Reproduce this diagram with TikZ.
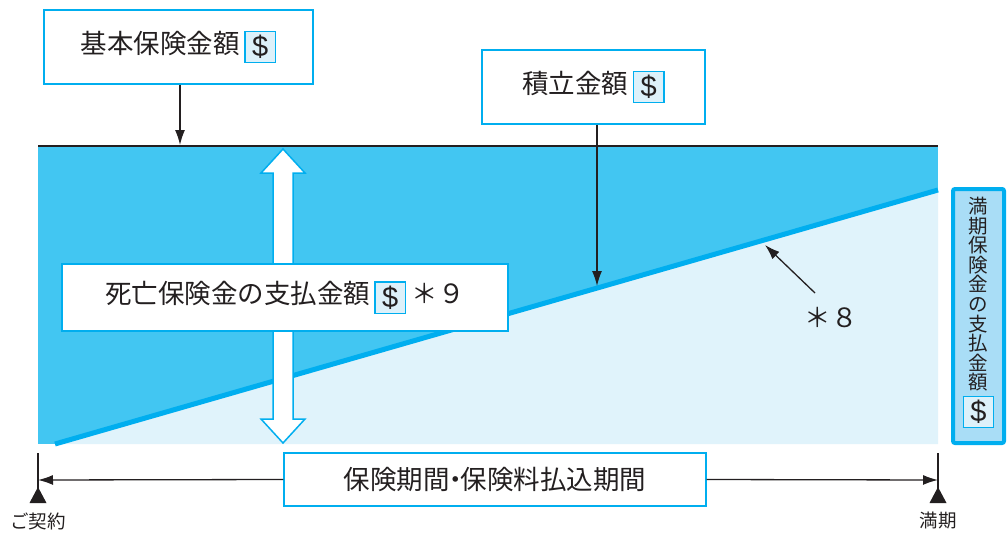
\documentclass[tikz,border=0pt]{standalone}
\usepackage{fontspec}
\setmainfont{Noto Sans CJK JP}
\newfontfamily\dollarfont{Liberation Sans}
\usetikzlibrary{arrows.meta}
\definecolor{linecol}{HTML}{00AEEF}
\definecolor{darkfill}{HTML}{42C6F2}
\definecolor{lightfill}{HTML}{E0F3FB}
\definecolor{midfill}{HTML}{A9DDF6}
\definecolor{dollarfill}{HTML}{DDF1FA}
\definecolor{inkcol}{HTML}{231F20}
\newcommand{\dollarbox}{{\setlength{\fboxsep}{0pt}\setlength{\fboxrule}{1.3pt}\fcolorbox{linecol}{dollarfill}{\parbox[c][30pt][c]{29pt}{\centering\dollarfont\fontsize{29}{30}\selectfont\$}}}}
\tikzset{
  labelbox/.style={draw=linecol, line width=1.2pt, fill=white, inner sep=0pt, text=inkcol},
  conn/.style={draw=inkcol, line width=1.3pt, -{Latex[length=15pt,width=10pt]}},
  bigtext/.style={font=\fontsize{26.5}{30}\selectfont},
}
\begin{document}
\begin{tikzpicture}[x=1pt,y=-1pt]
\useasboundingbox (0,0) rectangle (1007,535);
% chart area
\fill[darkfill] (38,146) rectangle (938,444);
\fill[lightfill] (55,444) -- (938,190) -- (938,444) -- cycle;
\draw[linecol, line width=5pt] (55,444) -- (938,190);
\draw[inkcol, line width=2.5pt] (38,146) -- (938,146);
\coordinate (topA) at (180,145);
\coordinate (slopeA) at (597,286);
\coordinate (slopeB) at (765,245);
% double arrow
\draw[linecol, line width=1.5pt, fill=white, line join=miter]
  (283,149) -- (305,173) -- (293,173) -- (293,419) -- (305,419) -- (283,443)
  -- (261,419) -- (273,419) -- (273,173) -- (261,173) -- cycle;
% boxes
\node[labelbox, minimum width=269pt, minimum height=74pt, bigtext] (kihon) at (178.5,47) {基本保険金額\,\dollarbox};
\node[labelbox, minimum width=223pt, minimum height=74pt, bigtext] (tsumi) at (593.5,87) {積立金額\,\dollarbox};
\node[labelbox, minimum width=446pt, minimum height=67pt, bigtext] (shibo) at (285,297.5) {死亡保険金の支払金額\,\dollarbox\ ＊９};
\node[labelbox, minimum width=422pt, minimum height=53pt, bigtext] (kikan) at (495,479.5) {保険期間\kern-0.3em・\kern-0.3em保険料払込期間};
% right box
\node[draw=linecol, line width=4pt, fill=midfill, rounded corners=2pt, minimum width=51pt, minimum height=254pt, inner sep=0pt] (manki) at (978.5,316) {};
\node[align=center, font=\fontsize{19.5}{19.6}\selectfont, text=inkcol, inner sep=0pt, anchor=north] (mankitext) at (978.5,197) {満\\期\\保\\険\\金\\の\\支\\払\\金\\額\\[3pt]\dollarbox};
% connectors
\draw[conn] (kihon.south -| topA) -- (topA);
\draw[conn] (tsumi.south -| slopeA) -- (slopeA);
\node[bigtext, text=inkcol] (n8) at (831,318) {＊８};
\draw[conn] (815,293) coordinate (n8tail) -- (slopeB);
% bottom time axis
\coordinate (tickL) at (38,480);
\coordinate (tickR) at (938,480);
\draw[inkcol, line width=1.3pt] (38,453) -- (38,500);
\draw[inkcol, line width=1.3pt] (938,453) -- (938,500);
\fill[inkcol] (38,487) -- (46.5,503) -- (29.5,503) -- cycle;
\fill[inkcol] (938,487) -- (946.5,503) -- (929.5,503) -- cycle;
\draw[conn] (kikan.west) -- (tickL);
\draw[conn] (kikan.east) -- (tickR);
\node[font=\fontsize{18.5}{22}\selectfont, text=inkcol] (keiyaku) at (38,521) {ご契約};
\node[font=\fontsize{18.5}{22}\selectfont, text=inkcol] (mankilbl) at (938,521) {満期};
\end{tikzpicture}
\end{document}
